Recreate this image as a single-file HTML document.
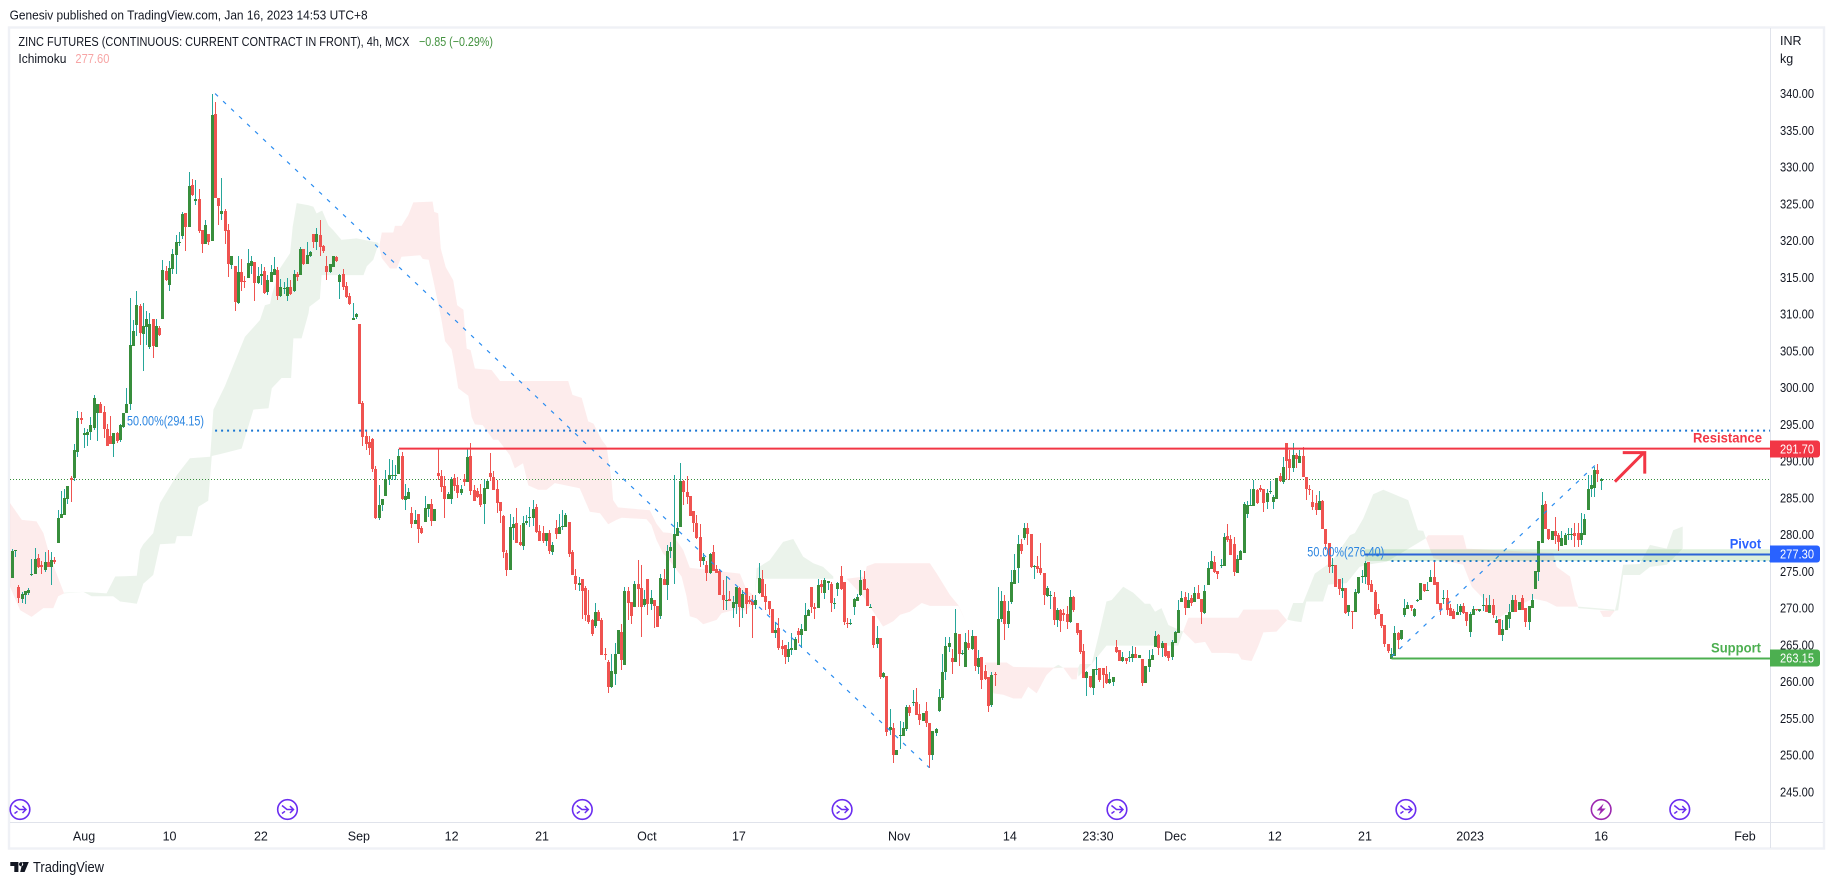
<!DOCTYPE html>
<html>
<head>
<meta charset="utf-8">
<title>Zinc Futures 4h chart</title>
<style>
html,body{margin:0;padding:0;background:#fff;width:1834px;height:885px;overflow:hidden}
svg{display:block}
text{font-family:"Liberation Sans",sans-serif;fill:#131722}
</style>
</head>
<body>
<svg id="chart" xmlns="http://www.w3.org/2000/svg" width="1834" height="885" viewBox="0 0 1834 885">
  <defs><clipPath id="plot-clip"><rect x="10" y="28" width="1760" height="794"/></clipPath></defs>
  <rect x="0" y="0" width="1834" height="885" fill="#fff"/>
  <text x="9.6" y="19.5" font-size="13" textLength="358" lengthAdjust="spacingAndGlyphs">Genesiv published on TradingView.com, Jan 16, 2023 14:53 UTC+8</text>
  <rect x="9" y="27.5" width="1815" height="821" fill="none" stroke="#eff1f6" stroke-width="2.4"/>
  <g id="cloud-layer" clip-path="url(#plot-clip)"></g>
  <g id="last-layer" clip-path="url(#plot-clip)"></g>
  <g id="candle-layer" clip-path="url(#plot-clip)"></g>
  <g id="drawing-layer" clip-path="url(#plot-clip)"></g>
  <g id="event-layer"></g>
  <line x1="1770.5" y1="28" x2="1770.5" y2="848" stroke="#e0e3eb" stroke-width="1"/>
  <line x1="10" y1="822.5" x2="1823" y2="822.5" stroke="#e0e3eb" stroke-width="1"/>
  <g id="price-axis">
    <text x="1780" y="45" font-size="12.5">INR</text>
    <text x="1780" y="63" font-size="12.5">kg</text>
  </g>
  <g id="time-axis"></g>
  <g id="label-layer"></g>
  <text x="18.4" y="46" font-size="13" textLength="391" lengthAdjust="spacingAndGlyphs">ZINC FUTURES (CONTINUOUS: CURRENT CONTRACT IN FRONT), 4h, MCX</text>
  <text x="419" y="46" font-size="13" textLength="74" lengthAdjust="spacingAndGlyphs" style="fill:#43923f">−0.85 (−0.29%)</text>
  <text x="18.4" y="63" font-size="13" textLength="48" lengthAdjust="spacingAndGlyphs">Ichimoku</text>
  <text x="75.4" y="63" font-size="13" textLength="34" lengthAdjust="spacingAndGlyphs" style="fill:#f7a5a5">277.60</text>
  <text x="1693" y="442.5" font-size="14" font-weight="bold" textLength="69" lengthAdjust="spacingAndGlyphs" style="fill:#f23645">Resistance</text>
  <text x="1729.7" y="548.5" font-size="14" font-weight="bold" textLength="31.5" lengthAdjust="spacingAndGlyphs" style="fill:#2962ff">Pivot</text>
  <text x="1711" y="652.5" font-size="14" font-weight="bold" textLength="50" lengthAdjust="spacingAndGlyphs" style="fill:#4caf50">Support</text>
  <text x="127" y="425.5" font-size="14" textLength="77" lengthAdjust="spacingAndGlyphs" style="fill:#2b85e0">50.00%(294.15)</text>
  <text x="1307.3" y="556.5" font-size="14" textLength="77" lengthAdjust="spacingAndGlyphs" style="fill:#2b85e0">50.00%(276.40)</text>
  <g>
    <path d="M10.3 862H18.4V872H14.3V866H10.3ZM22.6 862H28.8L24.6 872H20.2ZM19 864.2a2.1 2.1 0 1 0 4.2 0a2.1 2.1 0 1 0-4.2 0Z" fill="#131722"/>
    <text x="33" y="872" font-size="14.5" textLength="71" lengthAdjust="spacingAndGlyphs">TradingView</text>
  </g>
</svg>
<script>
const opens = [
274.1,277.8,272.9,271.3,271.8,272,274.5,274.7,276.8,275.9,275.2,276.3,275.6,276.5,278.9,282.3,282.7,284.8,287.7,287.7,291.2,295.9,293.6,293.6,294,294.5,296.6,297.8,296.7,294.4,293.4,292.3,293.8,292.9,294.6,296.5,297.8,305.6,308.5,311.1,307.3,308.2,305.5,309.3,305.5,308.1,
309.3,315.9,314,316.1,318,319.7,320.6,323.8,321.9,327.6,325.4,325.7,321.4,319.5,320.9,320,337.2,325.8,323.6,324,321.4,316.7,316.5,311.5,315.7,314.5,314.9,316.5,317.1,314.2,315.2,315.9,313,314.4,315.3,316,312.5,313.4,312.5,313.7,313.1,315.5,315.3,318.9,316.8,317.9,320.9,319.8,320.8,319.3,316.5,315.7,316.4,317.8,314.4,315.4,313.8,312.5,309.2,309.6,
308.7,297.9,293.4,292.6,293,288.9,282.3,284,285.3,287.5,288,288,288.2,290.7,284.7,284.8,282.9,281.4,282.8,280.9,281.7,283.5,284.2,281.8,288.4,288,286.6,284.8,
284.8,287.7,286.7,285.7,287.6,287.2,290.7,286.1,285.9,285.5,284.2,286.2,288.4,287.8,286.2,284.4,282.5,277.5,275.2,280.9,
281.6,279,278.4,281.6,282.3,282.2,283.8,280.5,280.2,279.1,280.2,277.6,280.9,280.1,281,281,281.7,277.6,274.4,273.2,
274,272.7,269.1,268.4,267.6,269.5,268.4,263.8,262.7,259.3,261,263.7,266.7,262.2,272.3,270.8,270.1,273.3,272.7,270.4,
274,270.6,271.1,270.3,268.9,274,273.1,277.8,275.5,279.8,281,287.3,285.8,285.2,283.2,281.6,279.7,276.4,275.9,274.8,
277.6,275.3,275,271.8,271,271.2,270,270.6,272.7,270,272.7,271.1,271,270.4,272,274,271.6,271,269.9,266.6,
267.3,264.8,265,263.3,264.3,264.3,266.9,266.3,266.9,268.9,272.9,270.1,270,273.3,272,273.4,273.3,270.6,272.6,274.4,
273.5,268,267.9,270.1,271,271.8,274,272.6,270.1,268.9,265.1,266,260.6,260.8,
253.4,253.7,250,252.6,252.6,253.6,256.5,257.1,257.2,255.6,254.6,256,254.4,250,253,256,257.8,261.3,264.7,263.2,
262.7,266.5,263.8,262,265.3,264.4,266.2,262,263.3,261.4,260.6,256.8,261,262.3,268.5,271,267.8,270.8,273.3,275.5,
278.7,279.5,280.9,280.1,275.6,275.7,275.5,274.8,271.6,271.6,271.5,268.4,269.8,269.3,269.2,268.1,271.5,268,267,264.2,
260.5,260.8,259.1,261.6,261.8,261.8,261,259.8,260,264.7,264.3,262.8,263.2,263.3,263.2,263.8,263.2,263.1,259.8,262,
263,264.7,266.3,264.6,265.2,264.2,263.3,265.3,266.6,270.8,271.5,270,271.4,270.8,272.1,
271.2,269.3,273.1,275.3,276.3,275,275.7,275.7,279.8,279.4,278.7,274.8,276.5,277.5,282.8,283.9,283.9,286.1,286.3,286.2,
284.4,285.8,284.4,284.8,288,287.2,292.5,290.3,289,290.8,289.7,290.7,287.9,286.2,284.4,284.3,283.3,284.6,280.8,278.9,
275.8,275.9,273.9,272.3,272.7,269.5,269.6,269.5,272,274.2,274.2,276.3,273.3,272.2,269.9,269.2,267.7,265.1,263.1,263.5,
266.6,265.8,269,269.9,270.4,268.9,271,271.1,273.3,272.3,273.6,274.2,273.6,270.7,271.3,271.4,270,269.6,269.1,269.5,
270.3,269.5,266.7,269.1,269.9,269.6,270.3,270.4,269.3,270.4,268,268.5,266.3,267,268.5,269.5,271.1,269.7,271.4,270,
268.1,270,272.6,274.9,278.9,284.2,280.8,279.3,280.5,280,278.4,278.6,279.9,279.9,280.2,280.2,279.3,279.9,283.3,286.2,
286.3,288.8,287.3];
const highs = [
278.1,277.9,273.2,272.2,272.3,272.8,276.7,278.2,277.4,276.4,277.6,277.9,277.6,277,283.4,285.9,286.2,286.6,288,292.3,296.8,296.7,294.5,294.3,296,299,297.8,298.1,297.5,295.1,296.1,293.8,294,295,296.5,299.9,312.2,309.2,313.1,311.4,311.5,310.4,310.2,309.3,309.3,308.4,
317.4,316.5,317.2,318.9,320.8,321.2,323.9,323.8,329.3,328.4,328.2,327,321.4,322.8,320.9,340,338.9,325.8,328.5,324.3,322.3,317.9,316.5,317.9,317.5,315.2,318.9,317.9,317.1,316.4,316.8,316.4,315.3,316.7,317.8,316.4,314.8,314.4,314.9,314.6,316,315.7,319.1,318.9,319.8,318.6,320.9,321.7,322.8,319.4,317.9,316.8,317.9,317.9,315.4,316.1,314.4,312.9,311.5,310.1,
308.7,298.2,294.2,293.4,293.1,289.3,286.7,284.8,288.8,290.3,290.2,289.5,291.7,291.2,286.9,286.3,283.8,283.3,282.8,281.2,285.2,284.2,284.8,283.5,291.6,288.8,288,285.8,
287.8,288.2,287.8,286.7,288.2,291.7,292.5,286.7,286.3,286.9,287.4,287.4,291.1,288.6,287.4,284.4,282.7,277.9,282.8,282.4,
283.6,281.3,282.5,282.7,283.7,284.7,284.2,281.3,281.2,280.2,280.6,279,282,282.8,283.3,282.9,281.7,277.9,275.3,274.2,
274,273,272.5,268.5,270.7,269.7,268.6,264.6,262.9,263.7,265.2,267,267.9,272.9,272.9,270.8,273.7,276.5,275.9,272.4,
274,272.4,271.1,270.3,274.6,275.3,278.6,279,288.1,281.7,289.7,287.4,288,285.2,283.2,282.7,281.4,277.5,276.4,277.5,
278.6,275.9,275.3,273.8,274.4,272.3,271.6,272.9,272.9,272.4,272.7,271.6,271.8,271.8,276.1,275.2,273.3,271,269.9,268.1,
268.6,265.7,265,265.4,266.6,266.1,267.3,267.8,270.7,269.9,272.9,270.7,273.9,273.8,274.1,273.7,273.6,271.4,273.5,275.7,
273.5,268.6,268.5,271.4,271.9,275.2,275,272.7,270.5,268.9,267.5,266,261.3,260.8,
256.3,254.4,250.7,254.6,254.5,256.8,256.8,258.9,259.1,257,255.7,257.2,254.4,253.3,253.7,259,263.8,266.1,266.1,264.4,
269.9,266.5,264.3,266.6,267,267,266.2,264.3,263.3,262.3,260.6,261.3,261.3,272.9,272.3,271.8,271,275.2,277.4,279.9,
279.4,281.6,281.6,280.1,275.9,277.1,278.9,274.8,273,272.3,272.2,270,269.9,269.9,270.3,272.5,271.7,268,267,265.1,
261.4,260.8,261.7,263.3,261.8,261.8,262.1,261.3,260.6,265.7,264.3,264,263.2,264.2,264.8,264.7,263.6,263.1,262.1,264.3,
264.4,266.9,266.5,265.5,265.2,264.2,265.7,266.9,271.1,272.3,272.2,272.1,271.8,272.9,273.1,
271.2,273.1,276.3,277.8,277.1,275,276.7,280.2,281.4,279.9,279.7,277.2,277.9,284.4,284.6,286.2,287.4,286.2,286.7,286.2,
286.2,287.3,285.4,287.7,288.4,290.6,292.5,291.5,292.5,291.1,291.5,291.9,287.9,286.7,286.1,285.4,285.9,284.7,280.8,278.9,
276.8,275.9,273.9,274.1,272.7,270.4,269.6,272.6,274.2,275.2,276.4,276.3,273.8,272.5,270.6,269.2,267.7,265.1,264.6,267.6,
266.7,267,271.2,270.8,270.4,270,271.2,273.4,273.3,273.5,275.2,276.4,273.6,270.7,272.5,272.5,270.6,269.9,270.6,270.6,
270.7,269.5,269.5,270.3,269.9,269.9,271.9,271.4,271.8,271.3,268.9,268.5,268.4,269,270.6,271.8,271.8,270.8,271.8,270,
270.3,271.9,275,279.1,285.8,284.6,280.8,280.5,282.4,280.2,280.5,280.2,280.9,280.9,281.6,281.6,283,282.8,288.1,288.1,
289.2,289.6,287.7];
const lows = [
274.1,276.9,270.7,270.7,270.5,271.8,274.3,274.6,275.5,274.6,274.9,275.6,273.1,276,278.9,282.3,282.6,284.2,284.4,287.3,290.6,295.1,291.8,292.1,292.9,294.2,292.7,296.5,293.1,292.1,292.3,290.6,292.5,292.6,294.5,296.5,297,305.6,307,305.8,302.3,305.8,305.2,304,305.5,307,
309.3,314.5,313.1,315.5,315.5,319.3,320.2,318.6,321.9,326.1,324.8,321,318.3,319.5,319.4,320,325.8,322.1,322.8,319.5,315.1,316.1,310.4,311.4,313.1,313.5,314.9,315.5,311.8,314.1,314,312.7,312.6,314.4,315.3,311.9,312.3,312.7,311.8,312.6,313,314.5,315.3,316.7,316.8,317.8,319,318.7,317.9,318.3,314.6,315.6,316.4,317.1,312.1,313.3,312.2,311.2,309.2,309.3,
297.8,292.1,291.5,290.8,288.5,282.1,282,283.2,285.3,286.7,287.4,287.4,288.2,284.7,283.3,284.8,280.9,281.4,278.9,280.1,281.7,282.4,281.2,281.8,287.4,285.8,282.3,284.8,
284.2,286,285,285.4,286.6,287.2,285.4,284.6,285,283.8,281.4,286.2,287.3,286.1,282.9,281.6,276.8,274.4,275.2,279.3,
278.9,278.4,277.9,281.3,281,281.2,280.2,279.1,278.9,278.4,277.4,277.2,279.4,280.1,280.6,281,277,274.5,272.5,272.3,
268.5,268.2,267.8,266.2,267.3,268.2,263.6,262.9,258.4,259.1,259.5,263.7,261.6,262.2,268.4,267.8,270.1,270.1,266.1,270.1,
269.1,269.7,267.3,267.4,268.5,273.1,271.1,276.8,273.3,279.8,281,284,284.2,282.5,280.3,279.4,275.6,275.9,273.7,274.6,
275,274.8,271.8,269.7,269.7,271,268.6,269.2,267.4,268.6,269.2,270.6,265.9,269.9,271.9,271.5,269.7,269.1,266.6,265.9,
264.3,263.6,262.4,262.7,263.6,264.3,265.2,264.6,266.9,268.9,269.3,268.5,270,272,271.2,272.5,269.5,269.9,271.6,272.5,
267.7,267.3,267.7,269,271,271.6,272.5,270.3,270.1,264.6,264.6,260.3,260.5,252.6,
252.7,248.9,250,250.8,252.6,253.3,255.3,256.7,255.5,254.1,254.6,253.8,248.3,249.3,252.6,255.9,257.5,260.2,264,261,
262.7,262.1,263.6,262,264.3,264.3,261.4,261,259,260.2,255.9,256.5,259.4,262.3,268.1,265.7,267.3,270.6,273.3,273.4,
277.4,279.3,278.6,275.5,274,274.8,274.5,270.4,271.5,269.9,267.7,267.4,266.7,268.3,267.2,268,269.5,266.3,263.8,260.5,
258,259.1,258.2,260.9,259.9,259.1,259.7,259.7,259.4,263.9,262.8,262.7,262.4,262.7,262.7,263.2,263.2,259.4,259.8,261.3,
263,264.7,263.6,263.3,263.3,262.8,262.9,265.3,266.6,270.8,269,270,270.3,270.8,271.2,
267.8,269.2,273.1,275.3,274.8,273.9,275.4,275.7,279,277.2,274.4,274.8,276.5,277.5,282.3,283.9,283.9,284.2,285.8,283.1,
283.5,285.5,283.5,284.8,287.2,286.9,287.4,287.4,288.5,289,289.7,287.8,284.7,285.4,283.4,282.7,283.3,280.8,277.9,274.8,
274.8,272.9,271.8,271.4,269.2,268.9,267.2,269.5,271.9,273.4,273.3,272.5,272.2,268.5,269.2,267.3,264.7,263.9,263.1,263.5,
264.4,265.7,268.8,269.9,269.6,268.8,270.8,271.1,272.2,272.3,273.6,273.1,270.6,269,270.5,269,268.9,268.5,269.1,269.1,
269.2,267.6,266.1,269.1,269.6,269.5,269.6,269.5,269.3,268.7,268,266.3,265.5,267,267.3,269.5,269.5,269.7,269.7,267.4,
267,270,272.6,273.7,278.9,280.8,279.3,279.3,278.7,277.8,278.4,278.6,279.3,279.3,278.3,278.3,278.6,279.9,283.3,285.1,
285.1,287.2,286.1];
const closes = [
277.8,277.9,271.4,271.9,272.3,272.5,274.7,276.7,275.6,275.6,276.3,275.6,276.5,276.3,282.3,282.8,285,286.6,287.4,291.5,295.9,295.6,293.8,294,294.9,298.6,297.8,296.5,294.4,292.1,292.3,293.8,292.7,294.9,296.5,297.8,305.8,307.7,311.2,307.4,308.4,309.3,308.7,305.7,308.4,307.2,
316,314.6,316.3,318.2,319.8,319.8,323.6,321.9,327.4,326.2,325.7,321.3,319.5,322.1,319.8,337.1,325.8,324.7,324,321.3,316.8,317.9,311.6,315.7,314.4,314.4,316.9,317.2,314.2,315.2,315.5,312.9,314.6,315.7,316.1,312.5,313.7,313.5,313.7,312.7,315.5,315.1,318.9,316.8,318,318.4,319.8,320.9,319.1,318.6,315.7,316.8,317.9,317.2,315.3,313.7,312.3,311.4,309.5,310,
297.8,293.3,292.3,291.8,288.9,282.3,284,284.8,287.5,288.1,288.1,288.1,290.7,284.8,285.2,285.8,281.4,282,280.8,280.2,283.6,284.2,281.8,283.5,288,286.5,284.8,285.5,
287.6,286.6,285.7,286.2,287.2,290.6,285.9,284.6,285.1,284,286.3,287.3,287.8,286.1,284.3,283.2,277.6,275.2,281,281.4,
278.9,278.6,281.6,281.8,282.4,283.5,280.3,279.1,279.1,280.2,277.8,278.6,280.1,281,281.2,282.7,277.4,274.5,273.3,273.4,
272.3,269.1,268.1,266.5,269.5,268.2,263.6,263.7,259.3,261.4,263.8,267,262.9,272.3,270.7,268.9,273.3,272.6,270.2,271.2,
270.6,271.4,270.3,267.4,274.1,273.1,277.8,278.3,280.1,280.9,287.3,285.8,285.1,282.5,281.6,279.5,276.4,276.9,274.8,277.3,
275,274.8,271.8,271.1,271.1,271,270.8,272.9,270.1,271.9,270.6,270.8,270.4,271.1,274.1,271.5,270.8,269.9,266.6,267,
264.6,264.4,263.3,264.4,264.6,265.8,266.3,267.1,269.1,269.7,270.1,269.9,273.1,272.9,273.8,273.7,270.7,270.7,273.4,272.6,
268.1,267.9,268,271.2,271.5,273.8,272.5,270.3,270.2,265,266,260.6,261.2,253.1,
253.8,250,250.7,252.7,253.7,256.5,255.7,257.2,255.5,254.8,255.7,254.4,250,253.3,253.6,257.9,261.3,264.8,265.3,262.7,
266.6,263.8,263.9,265.4,264.6,266.2,262.1,263.2,260.2,260.4,256.7,260.9,260.9,268.5,271,267.8,269.6,273.5,275.2,278.7,
277.8,280.9,280.1,275.6,275.7,275.3,274.8,271.8,272.7,271.8,268.4,269.8,268.3,269.1,268.1,271.5,269.7,266.6,264,260.5,
261.3,259.3,261.7,261.7,260.2,260.9,259.8,260.4,260.6,264,262.8,263.3,262.8,263.3,263.8,263.2,263.6,259.8,262.1,263.1,
263.6,266.2,264.6,265.2,263.5,263.2,265.4,266.8,269.7,271.4,270,271.1,270.7,272.1,271.2,
269.5,272.3,275.4,276.4,274.9,274.6,275.9,279.7,279.3,277.2,274.9,276.7,277.8,284.2,284,284,286.2,284.3,286.1,284.3,
285.7,285.9,285.1,287.7,287.3,289.2,290,289,290.8,290.3,290.7,287.8,286.2,286.1,283.8,283.3,284.6,280.8,278.7,275.6,
275.9,272.9,272.6,272.7,269.3,270.4,269.5,272.2,274.2,274.4,276.1,273.1,272.2,269,269.2,267.6,265.1,264.2,263.7,266.6,
265.7,267,270,270.4,270,269.9,271.1,273.4,272.3,272.5,274.2,273.1,270.6,269.7,271.4,269.7,268.9,268.5,269.5,270.3,
269.3,268.2,269.2,269.9,269.7,269.9,270.4,269.5,270.4,269,268.4,266.3,267.1,269,269.5,271.1,269.5,270.8,269.7,268.1,
270.3,271.1,275,279.1,284,280.8,279.4,280.5,279.8,279,279.5,279.9,280.1,280.1,279.8,279.3,280.2,282.1,286.2,286.7,
288.8,288.2,287.6];

// Ichimoku cloud outlines: [bar index, price]
const red1Upper = [[-0.7,284.3],[2.9,282],[7.4,281.8],[9.5,280.2],[11.5,277],[13.5,274.7],[15.8,272]];
const red1Lower = [[-0.7,272.9],[2.4,269.7],[5.9,268.8],[9.5,270],[12.5,270],[14,271.6],[15.8,272]];
const green1Upper = [[15.8,272.1],[21.7,272.2],[28.8,272],[31.4,274.3],[38,274.4],[39,277.9],[40,278.7],[43,280.2],[45.1,284.3],[48.1,286.5],[50.2,288.1],[54.2,290.4],[60.4,290.6],[61.4,297],[64.9,300.2],[71,306.9],[75.6,309.2],[77.1,311.2],[78.7,311.4],[79.2,312.6],[81.7,316.2],[84.8,318.3],[85.6,321.9],[86.8,325.1],[90.4,324.8],[91.9,324.6],[92.9,323.7],[94.6,324.1],[96.5,322.1],[98,321.4],[100.5,320.1],[105.1,320.3],[111.7,319.7],[112,319.2]];
const green1Lower = [[15.8,272],[21.7,272.2],[24.2,271.6],[30.8,271.6],[32.9,270.9],[38,270.6],[40,273.3],[43,274.5],[45.1,278.7],[49.7,278.8],[50.2,279.8],[54.8,279.8],[56.8,283.8],[59.8,284.6],[60.9,290.7],[63.9,291],[70,291.7],[73.6,297],[78.2,297.2],[79.2,299.9],[82.2,301.3],[85.1,301.3],[85.8,306.7],[88.3,306.7],[90.4,310.1],[90.7,311],[93.9,312.1],[94.4,315.3],[107.2,315.3],[108.2,316.5],[110.2,317.4],[111.7,319.4],[112,319.2]];
const red2Upper = [[112,319.2],[112.8,321.1],[116.3,321.1],[116.8,322],[118.8,322],[120.9,323.5],[122.4,325.2],[128.3,325.3],[128.8,323.9],[130,323.7],[130.8,318.9],[132.3,316.4],[134.6,314.6],[135.8,311.2],[137.7,310.6],[138.7,305.3],[139.9,305.1],[141.2,302.6],[146.3,302.4],[148.9,300.9],[169.7,300.9],[171,299],[173.8,298.6],[175.8,295.4],[177.4,295.1],[179.9,292.9],[181.4,292],[182.9,287.4],[183.4,284.7],[184.9,283.7],[194.6,283.3],[196.6,281.5],[198.7,280.3],[201.2,280.2],[204.8,277.9],[206.8,275.5],[222.1,274.7],[224.1,272.5],[226.7,271.6]];
const red2Lower = [[112,319.2],[112.8,317.6],[115.3,316.2],[117.3,316.2],[118.8,317.8],[124.5,318],[125.3,317.5],[127.1,317.4],[128.5,314.6],[131,309.2],[132.1,306.3],[134.1,305.2],[135.1,302.8],[136.1,299.9],[139.2,298.9],[140.2,296],[141.2,295],[143.6,294.9],[146.8,292.9],[148.3,292.9],[151.9,290.8],[153.4,289],[155.9,289.7],[157.5,286.7],[160.5,286.1],[163.1,286.1],[165.6,287],[173.2,286.3],[176.3,283.1],[179.4,282.9],[181.9,281.4],[184.4,282],[186,282.3],[193.6,282.1],[195.1,281.3],[196.6,279.3],[198.7,277.4],[199.7,277],[204.3,274.3],[205.8,271.6],[206.8,268.9],[208.9,268.6],[210.9,267.8],[215,268.4],[216.5,269.3],[220,269.7],[224.1,269.7],[226.7,271.1]];
const green2Upper = [[226.7,271.6],[227.2,275.4],[231.2,276.5],[235.3,279],[238.4,279.4],[241.4,277],[244.5,276.1],[247.5,275.6],[250.6,274.3]];
const green2Lower = [[226.7,271.6],[227.2,274],[250.6,274]];
const red3Upper = [[250.6,274.2],[254.6,274],[260.2,274.3],[260.8,275.7],[263.3,276.1],[280.1,276.1],[282.2,274.7],[286.2,271.8],[288.8,270.4],[291.3,267.9]];
const red3Lower = [[250.6,274.2],[254.6,274],[259.7,271.6],[265.8,267.5],[268.9,268.2],[271,269.1],[274,269.5],[277.6,270.7],[280.1,270.3],[288.8,270.3],[291.3,267.9]];
const red4Upper = [[296.4,262.6],[303.5,262.6],[305.6,262],[317.8,261.9],[320.8,261.9],[325.4,261.9]];
const red4Lower = [[296.9,262.6],[299.5,258.4],[302.5,258.2],[305.6,257.7],[308.1,257.7],[310.1,259.3],[312.7,258.4],[315.7,260.9],[317.8,261.8],[320.8,261.9],[323.4,260.3],[324.9,260.3],[325.4,261.9]];
const greenBumpUpper = [[317.8,261.9],[319.3,262.3],[320.8,261.9]];
const greenBumpLower = [[317.8,261.9],[320.8,261.9]];
const green3Upper = [[325.4,261.9],[325.9,262.4],[329.5,262.4],[331.5,266.1],[334,270.9],[335.6,271.1],[339.1,272.9],[342.2,272.1],[345.7,270.6],[347.3,270.6],[348.8,269.5],[350.8,270],[352.9,267.7],[357.4,266.8]];
const green3Lower = [[325.4,260.7],[329.5,262.4],[334,264.9],[355.9,264.9],[357.4,266.8]];
const red5Upper = [[357.4,266.8],[359,268.7],[374.2,268.7],[375.8,269.8],[386.4,269.8],[389,268.4]];
const red5Lower = [[357.4,266.8],[361,265.2],[364.1,265.4],[366.1,263.9],[370.7,263.9],[374.2,263.8],[375.2,263],[378.3,262.8],[380.3,264.8],[381.9,266.7],[385.9,266.8],[389.2,268.4]];
const green4Upper = [[389.2,268.5],[391,270.7],[394,270.7],[397.6,274.7],[402.7,276.3],[408.3,279.9],[409.8,280.2],[412.4,282.2],[415.4,285.5],[418.5,286.1],[426.1,284.7],[429.1,280.6],[430.7,280.5],[431.5,279.5]];
const green4Lower = [[389.5,268.4],[391.5,268.2],[393.5,268.1],[395,270.9],[400.1,270.9],[401.7,273.2],[407.3,273.4],[411.3,275.6],[413.4,275.9],[419.5,276.3],[431.5,279.5]];
const red6Upper = [[431.5,279.5],[432.2,279.9],[442.9,279.9],[443.9,278.1],[470.4,277.5],[471.4,275.6],[475.5,274.3],[477,271.3],[478,270.2]];
const red6Lower = [[431.5,279.5],[433.8,276.8],[442.9,275.9],[445.5,272.9],[449,271.3],[453.6,268.6],[458.2,270],[464.3,271.3],[468.3,270.9],[471.4,270.2],[478,270.2]];
const thinGreenUpper = [[478,270.2],[489,269.8]];
const thinGreenLower = [[478,270],[489,269.6]];
const red7Upper = [[484.6,269.65],[489.2,269.65]];
const red7Lower = [[485.6,268.8],[487.7,268.8],[489.2,269.65]];
const green5Upper = [[489.2,269.65],[490.2,271.6],[491.7,275.9],[496.8,276],[499.9,278.6],[505,278.1],[507,280.6],[509.9,281.1]];
const green5Lower = [[489.2,269.65],[490.2,269.7],[491.7,274.5],[496.8,274.5],[499.9,275.6],[505,275.9],[509.9,278.1]];

const redCloudPatches = [[red1Upper,red1Lower],[red2Upper,red2Lower],[red3Upper,red3Lower],[red4Upper,red4Lower],[red5Upper,red5Lower],[red6Upper,red6Lower],[red7Upper,red7Lower]];
const greenCloudPatches = [[green1Upper,green1Lower],[green2Upper,green2Lower],[greenBumpUpper,greenBumpLower],[green3Upper,green3Lower],[green4Upper,green4Lower],[thinGreenUpper,thinGreenLower],[green5Upper,green5Lower]];

const priceTicks = [340,335,330,325,320,315,310,305,300,295,290,285,280,275,270,265,260,255,250,245];
const timeTickLabels = ["Aug","10","22","Sep","12","21","Oct","17","Nov","14","23:30","Dec","12","21","2023","16","Feb"];
const timeTickBars = [21.9,48,75.9,105.8,134.1,161.7,193.7,221.8,270.7,304.5,331.4,355,385.4,412.9,445,485,528.9];
const eventBars = [2.35,84,174,253.3,337.2,425.4,509];
const lightningBars = [485];

const lastPrice = 287.5;
const resistancePrice = 291.7;
const pivotPrice = 277.3;
const supportPrice = 263.15;
const pivotBandTop = 278;
const pivotBandBottom = 276.4;
const levelStartBarResistance = 118;
const levelStartBarPivot = 412.9;
const levelStartBarSupport = 421;
const fibOneBars = [61.9,279.9];
const fibOnePrices = [340,248.3];
const fibOneMid = 294.15;
const fibTwoBars = [421,483.1];
const fibTwoPrices = [263.4,289.4];
const fibTwoMid = 276.4;
const arrowBars = [489.2,498];
const arrowPrices = [287.2,291.15];

const NS = 'http://www.w3.org/2000/svg';
function xScale(bar){ return 12.3 + 3.276 * bar; }
function yScale(price){ return 93.6 + (340 - price) * 7.35; }
const plotRight = 1770;
function mk(tag, parent, attrs){
  const el = document.createElementNS(NS, tag);
  for (const k in attrs) el.setAttribute(k, attrs[k]);
  parent.appendChild(el);
  return el;
}
const cloudLayer = document.getElementById('cloud-layer');
const lastLayer = document.getElementById('last-layer');
const candleLayer = document.getElementById('candle-layer');
const drawingLayer = document.getElementById('drawing-layer');
const eventLayer = document.getElementById('event-layer');
const priceAxis = document.getElementById('price-axis');
const timeAxis = document.getElementById('time-axis');
const labelLayer = document.getElementById('label-layer');

function patchPoints(patch){
  const top = patch[0].map(p => xScale(p[0]).toFixed(1) + ',' + yScale(p[1]).toFixed(1));
  const bot = patch[1].slice().reverse().map(p => xScale(p[0]).toFixed(1) + ',' + yScale(p[1]).toFixed(1));
  return top.concat(bot).join(' ');
}
redCloudPatches.forEach(patch => {
  const el = mk('polygon', cloudLayer, {points: patchPoints(patch), fill: '#ef5350', 'fill-opacity': '0.11'});
  
  
});
greenCloudPatches.forEach(patch => {
  const el = mk('polygon', cloudLayer, {points: patchPoints(patch), fill: '#388e3c', 'fill-opacity': '0.1'});
  
  
});

const lastLine = mk('line', lastLayer, {x1: 10, x2: plotRight, y1: yScale(lastPrice), y2: yScale(lastPrice), stroke: '#388e3c', 'stroke-width': 1, 'stroke-dasharray': '1 2'});



opens.forEach((open, i) => {
  const close = closes[i];
  const up = close >= open;
  const cx = Math.floor(xScale(i));
  const g = mk('g', candleLayer, {'shape-rendering': 'crispEdges'});
  
  
  const wickTop = Math.round(yScale(highs[i]));
  const wickBot = Math.round(yScale(lows[i]));
  mk('rect', g, {x: cx, y: wickTop, width: 1, height: Math.max(1, wickBot - wickTop), fill: up ? '#26a69a' : '#ef5350'});
  const bodyTop = Math.round(yScale(Math.max(open, close)));
  const bodyBot = Math.round(yScale(Math.min(open, close)));
  mk('rect', g, {x: cx - 1, y: bodyTop, width: 3, height: Math.max(1, bodyBot - bodyTop), fill: up ? '#388e3c' : '#ef5350'});
});

const fibOne = mk('line', drawingLayer, {x1: xScale(fibOneBars[0]), y1: yScale(fibOnePrices[0]), x2: xScale(fibOneBars[1]), y2: yScale(fibOnePrices[1]), stroke: '#2a8cf0', 'stroke-width': 1.2, 'stroke-dasharray': '4 7'});


const fibTwo = mk('line', drawingLayer, {x1: xScale(fibTwoBars[0]), y1: yScale(fibTwoPrices[0]), x2: xScale(fibTwoBars[1]), y2: yScale(fibTwoPrices[1]), stroke: '#2a8cf0', 'stroke-width': 1.2, 'stroke-dasharray': '4 7'});


const fibLevelOne = mk('line', drawingLayer, {x1: xScale(fibOneBars[0]), y1: yScale(fibOneMid), x2: plotRight, y2: yScale(fibOneMid), stroke: '#1976d2', 'stroke-width': 2, 'stroke-dasharray': '2 4'});


const fibLevelTwo = mk('line', drawingLayer, {x1: xScale(fibTwoBars[0]), y1: yScale(fibTwoMid), x2: plotRight, y2: yScale(fibTwoMid), stroke: '#1976d2', 'stroke-width': 2, 'stroke-dasharray': '2 4'});



const pivotBand = mk('rect', drawingLayer, {x: xScale(levelStartBarPivot), y: yScale(pivotBandTop), width: plotRight - xScale(levelStartBarPivot), height: yScale(pivotBandBottom) - yScale(pivotBandTop), fill: '#4caf50', 'fill-opacity': '0.2'});


const pivotLine = mk('line', drawingLayer, {x1: xScale(levelStartBarPivot), y1: yScale(pivotPrice), x2: plotRight, y2: yScale(pivotPrice), stroke: '#2a62d6', 'stroke-width': 2});


const resistanceLine = mk('line', drawingLayer, {x1: xScale(levelStartBarResistance), y1: yScale(resistancePrice), x2: plotRight, y2: yScale(resistancePrice), stroke: '#f23645', 'stroke-width': 2});


const supportLine = mk('line', drawingLayer, {x1: xScale(levelStartBarSupport), y1: yScale(supportPrice), x2: plotRight, y2: yScale(supportPrice), stroke: '#4caf50', 'stroke-width': 2});



const ax0 = xScale(arrowBars[0]), ay0 = yScale(arrowPrices[0]), ax1 = xScale(arrowBars[1]), ay1 = yScale(arrowPrices[1]);
const arrow = mk('path', drawingLayer, {d: 'M' + ax0 + ' ' + ay0 + 'L' + ax1 + ' ' + ay1 + 'M' + (ax1 - 21) + ' ' + ay1 + 'H' + (ax1 + 1) + 'V' + (ay1 + 21), fill: 'none', stroke: '#f23645', 'stroke-width': 3});



priceTicks.forEach(tick => {
  const t = mk('text', priceAxis, {x: 1780, y: yScale(tick) + 4.5, 'font-size': 12.5, textLength: 34, lengthAdjust: 'spacingAndGlyphs'});
  
  
  t.textContent = tick.toFixed(2);
});
timeTickLabels.forEach((label, i) => {
  const t = mk('text', timeAxis, {x: xScale(timeTickBars[i]), y: 840.5, 'font-size': 12.5, 'text-anchor': 'middle'});
  
  
  t.textContent = label;
});

function addPriceBox(price, color, name){
  const y = Math.round(yScale(price));
  const r = mk('path', labelLayer, {d: 'M1770 ' + (y - 8.5) + 'H1817a3 3 0 0 1 3 3V' + (y + 5.5) + 'a3 3 0 0 1-3 3H1770Z', fill: color});
  
  
  const t = mk('text', labelLayer, {x: 1780, y: y + 4.5, 'font-size': 12.5, textLength: 34, lengthAdjust: 'spacingAndGlyphs', style: 'fill:#fff'});
  
  
  t.textContent = price.toFixed(2);
}
addPriceBox(resistancePrice, '#f23645', 'resistance');
addPriceBox(pivotPrice, '#2962ff', 'pivot');
addPriceBox(supportPrice, '#4caf50', 'support');

eventBars.forEach(bar => {
  const cx = xScale(bar), cy = 809.5;
  const g = mk('g', eventLayer, {});
  
  
  mk('circle', g, {cx: cx, cy: cy, r: 9.8, fill: '#fff', stroke: '#6a2df0', 'stroke-width': 1.6});
  mk('path', g, {d: 'M' + (cx - 5.5) + ' ' + (cy - 4) + 'L' + (cx - 0.5) + ' ' + cy + 'H' + (cx + 5.5) + 'M' + (cx + 2.5) + ' ' + (cy - 3.5) + 'L' + (cx + 6) + ' ' + cy + 'L' + (cx + 2.5) + ' ' + (cy + 3.5) + 'M' + (cx - 5.5) + ' ' + (cy + 4) + 'L' + (cx - 2.5) + ' ' + (cy + 1.8), fill: 'none', stroke: '#6a2df0', 'stroke-width': 1.5});
});
lightningBars.forEach(bar => {
  const cx = xScale(bar), cy = 809.5;
  const g = mk('g', eventLayer, {});
  
  
  mk('circle', g, {cx: cx, cy: cy, r: 9.8, fill: '#fff', stroke: '#9c27b0', 'stroke-width': 1.6});
  mk('path', g, {d: 'M' + (cx + 2.5) + ' ' + (cy - 6) + 'L' + (cx - 4.5) + ' ' + (cy + 1) + 'H' + (cx - 0.5) + 'L' + (cx - 2.5) + ' ' + (cy + 6) + 'L' + (cx + 4.5) + ' ' + (cy - 1) + 'H' + (cx + 0.5) + 'Z', fill: '#9c27b0'});
});
</script>
</body>
</html>
